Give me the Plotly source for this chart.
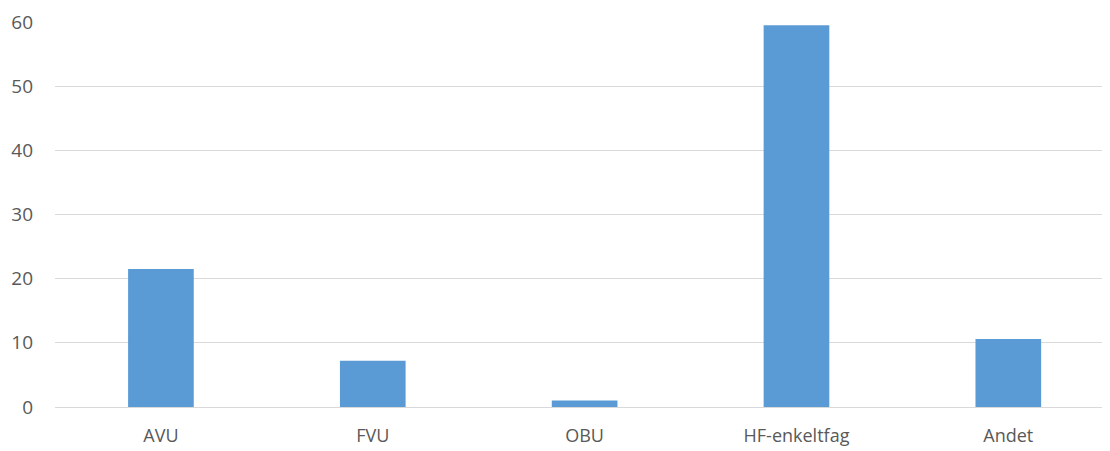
import plotly.graph_objects as go

categories = ["AVU", "FVU", "OBU", "HF-enkeltfag", "Andet"]
values = [21.5, 7.2, 1.0, 59.5, 10.6]
y_ticks = [0, 10, 20, 30, 40, 50, 60]

BAR_COLOR = "#5B9BD5"
GRID_COLOR = "#D9D9D9"
TEXT_COLOR = "#595959"

fig = go.Figure(go.Bar(x=categories, y=values, marker_color=BAR_COLOR, marker_line_width=0))

# the html page adds an 8px body margin, so size/margins are offset by that
fig.update_layout(
    width=1102, height=443,
    margin=dict(l=47, r=0, t=14, b=44),
    plot_bgcolor="white", paper_bgcolor="white",
    bargap=0.69,
    showlegend=False,
    font=dict(family="Open Sans, Liberation Sans, sans-serif", size=18, color=TEXT_COLOR),
)
fig.update_xaxes(
    range=[-0.5, 4.48], showgrid=False, showline=False, zeroline=False,
    ticks="", ticklabelstandoff=16,
)
fig.update_yaxes(
    range=[0, 60], tickvals=y_ticks, showgrid=True, gridcolor=GRID_COLOR, gridwidth=1,
    zeroline=True, zerolinecolor=GRID_COLOR, zerolinewidth=1, showline=False,
    ticks="", ticklabelstandoff=21, tickfont=dict(size=19),
)

fig.write_html("out.html")
